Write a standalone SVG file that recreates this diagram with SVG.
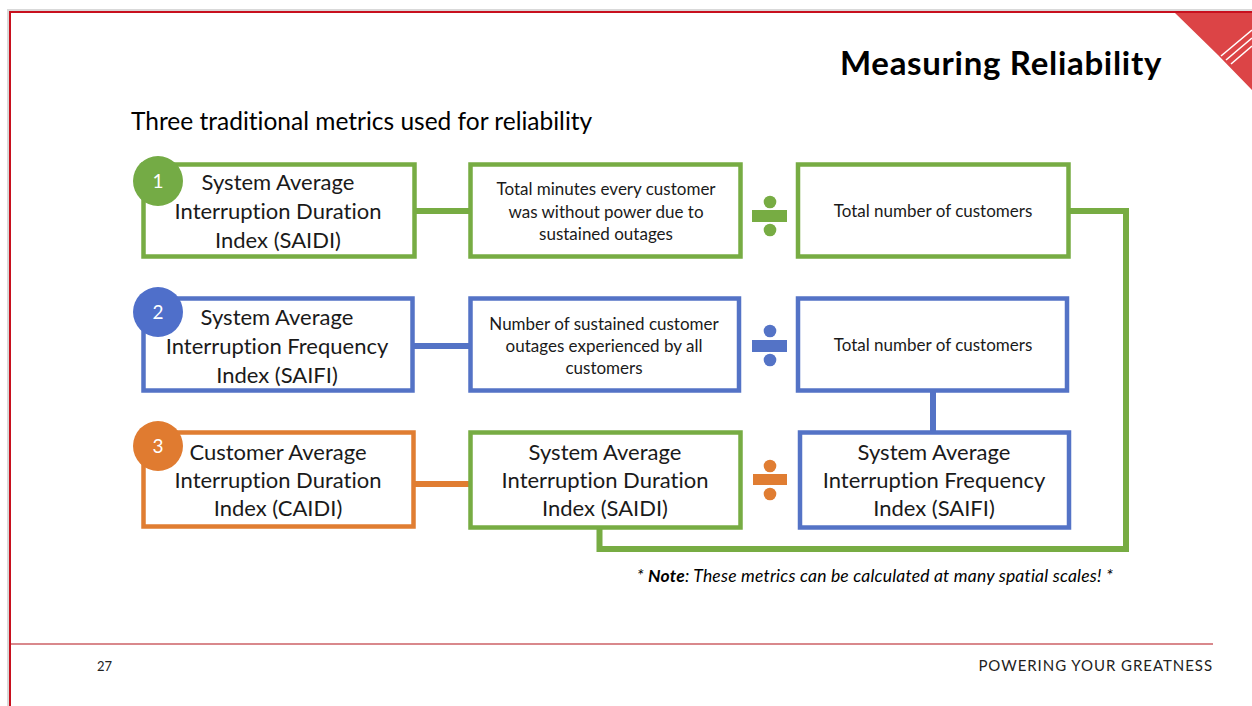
<svg xmlns="http://www.w3.org/2000/svg" width="1252" height="706" viewBox="0 0 1252 706">
<style>
text{font-variant-ligatures:none}
.t{font-family:Lato,"Open Sans","Liberation Sans",sans-serif;fill:#1a1a1a}
.big{font-size:22px}
.sm{font-size:17px}
.num{font-family:Lato,"Liberation Sans",sans-serif;font-size:19px;fill:#fff}
.g{stroke:#77AC43}
.b{stroke:#5473C6}
.o{stroke:#E07D32}
.box{fill:#fff;stroke-width:4.5}
.ln{fill:none;stroke-width:6}
</style>
<rect x="0" y="0" width="1252" height="706" fill="#fff"/>
<!-- page frame -->
<rect x="7" y="9" width="1245" height="2" fill="#d9d9d9"/>
<rect x="7" y="9" width="2" height="697" fill="#d9d9d9"/>
<rect x="9" y="11" width="1243" height="2" fill="#c8101e"/>
<rect x="9" y="11" width="2" height="695" fill="#c8101e"/>
<!-- corner logo -->
<polygon points="1175,13 1252,13 1252,90 1218,55" fill="#dc4446"/>
<g stroke="#fff" stroke-width="1.6">
<line x1="1221" y1="56" x2="1252" y2="30"/>
<line x1="1226" y1="60" x2="1252" y2="38"/>
<line x1="1231" y1="64" x2="1252" y2="46"/>
</g>
<text x="1162" y="75" text-anchor="end" font-family="Lato,'Liberation Sans',sans-serif" font-weight="bold" font-size="33" letter-spacing="0.7" fill="#000">Measuring Reliability</text>
<text x="131" y="130" font-family="Lato,'Liberation Sans',sans-serif" font-size="24.5" fill="#000">Three traditional metrics used for reliability</text>

<g id="connectors">
<line class="ln g" x1="414" y1="211" x2="470" y2="211"/>
<line class="ln b" x1="412" y1="346" x2="470" y2="346"/>
<line class="ln o" x1="413" y1="484" x2="470" y2="484"/>
<line class="ln b" x1="933" y1="392" x2="933" y2="432"/>
<polyline class="ln g" points="1069,211 1126,211 1126,549 599.5,549 599.5,528"/>
</g>

<g id="n1-saidi"><rect class="box g" x="143.5" y="164.5" width="271" height="92"/>
<text class="t big" text-anchor="middle"><tspan x="278" y="190">System Average</tspan><tspan x="278" y="219">Interruption Duration</tspan><tspan x="278" y="248">Index (SAIDI)</tspan></text></g>
<g id="c1"><circle cx="158" cy="181" r="25" fill="#74AB45"/><text class="num" x="158" y="188" text-anchor="middle">1</text></g>
<g id="n1-num"><rect class="box g" x="470.5" y="164.5" width="270" height="92"/>
<text class="t sm" text-anchor="middle"><tspan x="606" y="195">Total minutes every customer</tspan><tspan x="606" y="218">was without power due to</tspan><tspan x="606" y="240">sustained outages</tspan></text></g>
<g id="d1" fill="#77AC43"><rect x="752" y="210" width="35" height="12"/><circle cx="770" cy="202" r="6.3"/><circle cx="770" cy="230" r="6.3"/></g>
<g id="n1-den"><rect class="box g" x="798" y="164.5" width="270.5" height="92"/>
<text class="t sm" x="933" y="217" text-anchor="middle">Total number of customers</text></g>

<g id="n2-saifi"><rect class="box b" x="143.5" y="298.5" width="269" height="92"/>
<text class="t big" text-anchor="middle"><tspan x="277" y="325">System Average</tspan><tspan x="277" y="354">Interruption Frequency</tspan><tspan x="277" y="383">Index (SAIFI)</tspan></text></g>
<g id="c2"><circle cx="158" cy="312" r="25" fill="#4F6FCA"/><text class="num" x="158" y="319" text-anchor="middle">2</text></g>
<g id="n2-num"><rect class="box b" x="470.5" y="298.5" width="268.5" height="92"/>
<text class="t sm" text-anchor="middle"><tspan x="604" y="330">Number of sustained customer</tspan><tspan x="604" y="352">outages experienced by all</tspan><tspan x="604" y="374">customers</tspan></text></g>
<g id="d2" fill="#5473C6"><rect x="752" y="340" width="35" height="12"/><circle cx="770" cy="331" r="6.3"/><circle cx="770" cy="360" r="6.3"/></g>
<g id="n2-den"><rect class="box b" x="798" y="298.5" width="269" height="92"/>
<text class="t sm" x="933" y="351" text-anchor="middle">Total number of customers</text></g>

<g id="n3-caidi"><rect class="box o" x="143.5" y="432.5" width="270" height="94"/>
<text class="t big" text-anchor="middle"><tspan x="278" y="460">Customer Average</tspan><tspan x="278" y="488">Interruption Duration</tspan><tspan x="278" y="516">Index (CAIDI)</tspan></text></g>
<g id="c3"><circle cx="158" cy="446" r="25" fill="#E07B30"/><text class="num" x="158" y="453" text-anchor="middle">3</text></g>
<g id="n3-num"><rect class="box g" x="470.5" y="432.5" width="270" height="95"/>
<text class="t big" text-anchor="middle"><tspan x="605" y="460">System Average</tspan><tspan x="605" y="488">Interruption Duration</tspan><tspan x="605" y="516">Index (SAIDI)</tspan></text></g>
<g id="d3" fill="#E07D32"><rect x="753" y="474" width="34" height="11"/><circle cx="770" cy="466" r="6.3"/><circle cx="770" cy="494" r="6.3"/></g>
<g id="n3-den"><rect class="box b" x="800" y="432.5" width="269" height="95"/>
<text class="t big" text-anchor="middle"><tspan x="934" y="460">System Average</tspan><tspan x="934" y="488">Interruption Frequency</tspan><tspan x="934" y="516">Index (SAIFI)</tspan></text></g>

<text x="1113" y="582" text-anchor="end" font-family="Lato,'Liberation Sans',sans-serif" font-style="italic" font-size="17.5" letter-spacing="0.2" fill="#000">* <tspan font-weight="bold">Note</tspan>: These metrics can be calculated at many spatial scales! *</text>

<line x1="11" y1="644" x2="1213" y2="644" stroke="#d9888c" stroke-width="2"/>
<text x="97" y="671" font-family="Lato,'Liberation Sans',sans-serif" font-size="13" fill="#222">27</text>
<text x="1213" y="671" text-anchor="end" font-family="Lato,'Liberation Sans',sans-serif" font-size="15" letter-spacing="0.95" fill="#222">POWERING YOUR GREATNESS</text>
</svg>
